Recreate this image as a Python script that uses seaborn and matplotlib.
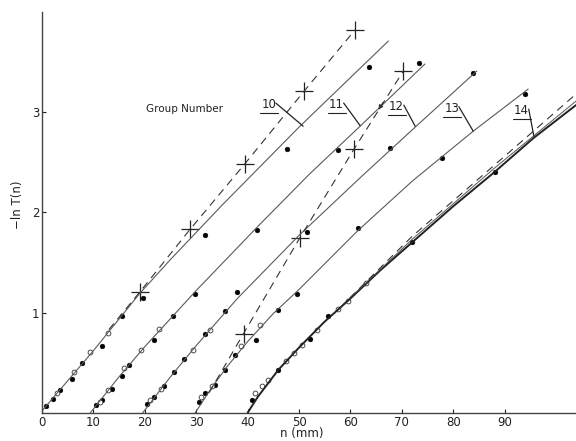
import matplotlib
matplotlib.use("Agg")
import matplotlib.pyplot as plt
import seaborn as sns
import pandas as pd

# ---- data ----
# solid curves, one per group
g10_x = [0, 10, 19, 25, 35, 50, 67.4]
g10_y = [0.02, 0.62, 1.19, 1.53, 2.07, 2.85, 3.71]
g11_x = [9.4, 15, 20, 30, 42, 52, 61.9, 74.5]
g11_y = [0.0, 0.36, 0.66, 1.22, 1.86, 2.38, 2.86, 3.48]
g12_x = [19.6, 25, 30, 38, 50, 62, 72.6, 84.6]
g12_y = [0.0, 0.36, 0.67, 1.14, 1.77, 2.35, 2.85, 3.41]
g13_x = [29.8, 33, 36, 40, 45, 50, 61.5, 72, 83.9, 94.6]
g13_y = [0.0, 0.25, 0.46, 0.71, 0.99, 1.23, 1.82, 2.31, 2.81, 3.23]
g14_x = [40, 42, 46, 50, 55, 60, 66, 72, 80, 88, 95.6, 103.9]
g14_y = [0.0, 0.16, 0.43, 0.65, 0.91, 1.14, 1.43, 1.70, 2.06, 2.40, 2.74, 3.07]
g14b_x = [60, 72, 88, 103.9]
g14b_y = [1.15, 1.73, 2.44, 3.11]
g14d_x = [58, 72, 88, 103.9]
g14d_y = [1.05, 1.76, 2.47, 3.18]

# dashed lines with crosses
d10_x = [13, 19.1, 28.8, 39.4, 51.0, 60.9]
d10_y = [0.83, 1.21, 1.83, 2.48, 3.21, 3.82]
d13_x = [32.5, 39.2, 50.1, 60.7, 70.3]
d13_y = [0.20, 0.79, 1.74, 2.63, 3.41]
c10_x = [19.1, 28.8, 39.4, 51.0, 60.9]
c10_y = [1.21, 1.83, 2.48, 3.21, 3.82]
c13_x = [39.2, 50.1, 60.7, 70.3]
c13_y = [0.79, 1.74, 2.63, 3.41]

# filled data points
f_x = [0.8, 2.1, 3.5, 5.8, 7.8, 11.7, 15.6, 19.7, 31.7, 47.6, 63.6,
       10.5, 11.7, 13.6, 15.6, 16.9, 21.8, 25.5, 29.8, 41.8, 57.5, 73.3,
       20.5, 21.8, 23.7, 25.7, 27.6, 31.7, 35.6, 37.9, 51.6, 67.7, 83.9,
       30.6, 31.7, 33.6, 35.6, 37.5, 41.6, 45.9, 49.7, 61.5, 77.8, 94.0,
       40.8, 45.9, 52.1, 55.7, 71.9, 88.1]
f_y = [0.07, 0.14, 0.23, 0.34, 0.50, 0.67, 0.97, 1.15, 1.77, 2.63, 3.45,
       0.08, 0.13, 0.24, 0.37, 0.48, 0.73, 0.97, 1.19, 1.82, 2.62, 3.49,
       0.09, 0.16, 0.27, 0.41, 0.54, 0.79, 1.02, 1.21, 1.80, 2.64, 3.39,
       0.11, 0.20, 0.28, 0.43, 0.58, 0.73, 1.03, 1.19, 1.84, 2.54, 3.18,
       0.13, 0.43, 0.74, 0.97, 1.70, 2.40]
# open data points
o_x = [3.0, 6.3, 9.3, 12.8,
       11.2, 12.8, 16.0, 19.2, 22.8,
       21.1, 23.1, 29.3, 32.7,
       30.9, 33.0, 38.7, 42.4,
       41.5, 42.8, 44.0, 47.5, 49.0, 50.5, 53.5, 57.5, 59.5, 63.0]
o_y = [0.20, 0.41, 0.61, 0.80,
       0.11, 0.23, 0.45, 0.63, 0.84,
       0.13, 0.24, 0.63, 0.83,
       0.16, 0.27, 0.67, 0.88,
       0.20, 0.27, 0.33, 0.52, 0.60, 0.68, 0.83, 1.04, 1.12, 1.29]

# group labels: text position and leader end on curve
lab_text = ["10", "11", "12", "13", "14"]
lab_tx = [44.1, 57.3, 69.0, 79.7, 93.3]
lab_ty = [3.01, 3.01, 2.99, 2.975, 2.95]
lab_ex = [50.8, 61.9, 72.6, 83.9, 95.7]
lab_ey = [2.86, 2.865, 2.86, 2.81, 2.76]

x_ticks = [0, 10, 20, 30, 40, 50, 60, 70, 80, 90]
y_ticks = [1, 2, 3]

# ---- plotting ----
sns.set_style("ticks")
plt.rcParams['font.family'] = ['DejaVu Sans']

fig = plt.figure(figsize=(5.76, 4.41), dpi=100)
ax = fig.add_axes([0.073, 0.064, 0.927, 0.909])

lc = "#5a5a5a"
for xs, ys in [(g10_x, g10_y), (g11_x, g11_y), (g12_x, g12_y), (g13_x, g13_y)]:
    sns.lineplot(x=xs, y=ys, ax=ax, color=lc, linewidth=0.8, sort=False, estimator=None)
sns.lineplot(x=g14_x, y=g14_y, ax=ax, color="#222222", linewidth=1.4, sort=False, estimator=None)
sns.lineplot(x=g14b_x, y=g14b_y, ax=ax, color="#555555", linewidth=0.7, sort=False, estimator=None)
sns.lineplot(x=g14d_x, y=g14d_y, ax=ax, color="#333333", linewidth=0.8, sort=False,
             estimator=None, linestyle=(0, (7, 5)))
sns.lineplot(x=d10_x, y=d10_y, ax=ax, color="#333333", linewidth=0.8, sort=False,
             estimator=None, linestyle=(0, (7, 5)))
sns.lineplot(x=d13_x, y=d13_y, ax=ax, color="#333333", linewidth=0.8, sort=False,
             estimator=None, linestyle=(0, (7, 5)))

sns.scatterplot(x=c10_x + c13_x, y=c10_y + c13_y, ax=ax, marker="+", s=150,
                color="#222222", linewidth=0.9)
sns.scatterplot(x=f_x, y=f_y, ax=ax, color="black", s=12, edgecolor="black", linewidth=0.3)
sns.scatterplot(x=o_x, y=o_y, ax=ax, facecolor="white", s=12, edgecolor="#333333", linewidth=0.6)

# arrowhead on the dashed line of group 13
ax.annotate("", xy=(65.2, 3.00), xytext=(66.6, 3.12),
            arrowprops=dict(arrowstyle="-|>", color="#333333", lw=0.7,
                            mutation_scale=7))

# group labels with underline and leader
for t, tx, ty, ex, ey in zip(lab_text, lab_tx, lab_ty, lab_ex, lab_ey):
    ax.text(tx, ty, t, ha="center", va="bottom", fontsize=8.5, color="#222222")
    ax.plot([tx - 1.7, tx + 1.8], [ty - 0.02, ty - 0.02], color="#222222", lw=0.8)
    ax.plot([tx + 1.4, ex], [ty + 0.08, ey], color="#222222", lw=0.9)

ax.text(20.2, 3.035, "Group Number", fontsize=7.5, ha="left", va="center", color="#222222")

ax.set_xlim(0, 103.9)
ax.set_ylim(0, 4.0)
ax.set_xticks(x_ticks)
ax.set_xticklabels([str(v) for v in x_ticks])
ax.set_yticks(y_ticks)
ax.set_yticklabels([str(v) for v in y_ticks])
ax.tick_params(direction="in", length=3, width=0.8, labelsize=8.5, colors="#222222", pad=2)
sns.despine(ax=ax)
for s in ["left", "bottom"]:
    ax.spines[s].set_color("#444444")
    ax.spines[s].set_linewidth(1.0)
ax.set_xlabel("n (mm)", fontsize=8.5, color="#222222", labelpad=2)
ax.xaxis.set_label_coords(0.486, -0.036)
ax.set_ylabel("\u2212ln T(n)", fontsize=8.5, color="#222222", labelpad=2)
ax.yaxis.set_label_coords(-0.033, 0.52)

fig.savefig("out.png", dpi=100)
